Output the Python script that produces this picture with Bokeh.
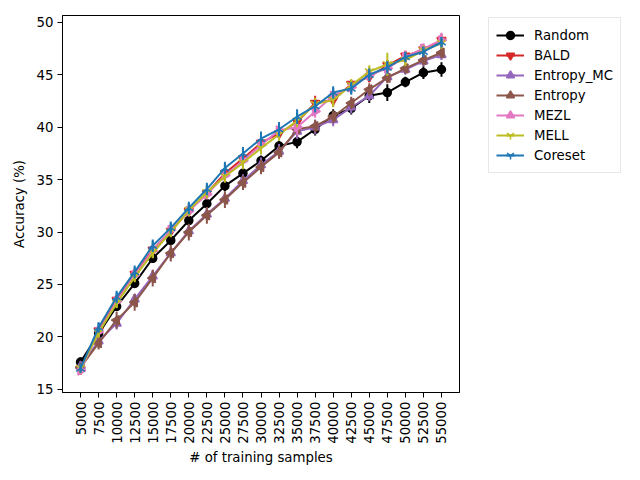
import math
from bokeh.plotting import figure
from bokeh.models import Range1d, FactorRange, Legend, LegendItem
from bokeh.embed import file_html
from bokeh.resources import INLINE

samples = ["5000", "7500", "10000", "12500", "15000", "17500", "20000", "22500",
           "25000", "27500", "30000", "32500", "35000", "37500", "40000", "42500",
           "45000", "47500", "50000", "52500", "55000"]

random_acc = [17.6, 20.3, 22.9, 25.1, 27.5, 29.2, 31.1, 32.7, 34.4, 35.6, 36.8,
              38.2, 38.6, 39.8, 41.1, 41.8, 43.0, 43.3, 44.3, 45.2, 45.5]
random_err = [0.3, 0.3, 0.4, 0.4, 0.4, 0.4, 0.5, 0.4, 0.5, 0.5, 0.5, 0.5, 0.6,
              0.6, 0.6, 0.6, 0.7, 0.8, 0.5, 0.6, 0.7]

bald_acc = [16.9, 20.6, 23.5, 26.0, 28.3, 30.1, 32.0, 33.7, 35.6, 37.0, 38.5,
            39.4, 40.5, 42.3, 42.6, 44.1, 44.8, 45.9, 46.8, 47.4, 48.3]
bald_err = [0.5, 0.4, 0.5, 0.5, 0.5, 0.6, 0.5, 0.5, 0.5, 0.5, 0.6, 0.6, 0.6,
            0.7, 0.6, 0.4, 0.5, 0.5, 0.5, 0.5, 0.6]

entropy_mc_acc = [17.2, 19.6, 21.3, 23.6, 25.8, 28.0, 30.1, 31.7, 33.2, 34.9, 36.4,
                  37.7, 39.6, 40.0, 40.7, 41.9, 43.0, 44.8, 45.5, 46.3, 46.9]
entropy_mc_err = [0.3, 0.4, 0.6, 0.5, 0.6, 0.6, 0.6, 0.6, 0.6, 0.6, 0.7, 0.7, 0.7,
                  0.7, 0.6, 0.6, 0.5, 0.5, 0.5, 0.5, 0.5]

entropy_acc = [17.1, 19.4, 21.6, 23.3, 25.6, 28.0, 30.0, 31.6, 33.1, 34.7, 36.2,
               37.6, 39.8, 40.1, 41.0, 42.3, 43.6, 44.7, 45.6, 46.4, 47.1]
entropy_err = [0.4, 0.6, 0.8, 0.8, 0.8, 0.8, 0.8, 0.8, 0.8, 0.7, 0.7, 0.6, 0.6,
               0.6, 0.6, 0.6, 0.6, 0.5, 0.5, 0.5, 0.5]

mezl_acc = [16.8, 20.5, 23.4, 25.9, 28.2, 30.2, 32.0, 33.6, 35.4, 36.8, 38.3,
            39.7, 40.0, 41.5, 43.0, 43.8, 45.0, 45.6, 46.7, 47.5, 48.3]
mezl_err = [0.3, 0.4, 0.4, 0.4, 0.5, 0.5, 0.5, 0.5, 0.5, 0.6, 0.8, 0.7, 0.8,
            0.6, 0.6, 0.6, 0.6, 0.6, 0.6, 0.5, 0.7]

mell_acc = [17.0, 20.4, 23.2, 25.7, 28.0, 30.0, 32.1, 33.8, 35.3, 36.6, 38.0,
            39.3, 40.6, 42.2, 42.6, 44.0, 45.3, 46.0, 46.4, 47.3, 48.0]
mell_err = [0.4, 0.4, 0.4, 0.4, 0.5, 0.5, 0.6, 0.6, 0.6, 0.6, 0.6, 0.6, 0.6,
            0.6, 0.7, 0.6, 0.6, 1.1, 0.6, 0.5, 0.5]

coreset_acc = [17.0, 20.9, 23.8, 26.2, 28.7, 30.4, 32.3, 34.1, 36.1, 37.5, 38.9,
               39.8, 41.0, 42.0, 43.3, 43.7, 45.0, 45.7, 46.7, 47.2, 48.1]
coreset_err = [0.3, 0.5, 0.6, 0.6, 0.6, 0.6, 0.6, 0.6, 0.6, 0.6, 0.7, 0.7, 0.7,
               0.6, 0.6, 0.6, 0.6, 0.6, 0.5, 0.5, 0.5]

series_names = ["Random", "BALD", "Entropy_MC", "Entropy", "MEZL", "MELL", "Coreset"]
series_vals = [random_acc, bald_acc, entropy_mc_acc, entropy_acc, mezl_acc, mell_acc, coreset_acc]
series_errs = [random_err, bald_err, entropy_mc_err, entropy_err, mezl_err, mell_err, coreset_err]
colors = ["#000000", "#d62728", "#9467bd", "#8c564b", "#e377c2", "#bcbd22", "#1f77b4"]
markers = ["circle", "inverted_triangle", "triangle", "triangle", "triangle", "y", "y"]
angles = [0, 0, 0, math.pi / 2, -math.pi / 2, 0, math.pi]
sizes = [8, 9, 9, 9, 9, 10, 10]
filled = [True, True, True, True, True, False, False]

FONT = "DejaVu Sans"

p = figure(x_range=FactorRange(factors=samples, range_padding=0.5, range_padding_units="absolute"),
           y_range=Range1d(14.7, 50.65),
           frame_width=397, frame_height=377,
           min_border_left=62, min_border_right=170, min_border_top=15, min_border_bottom=80,
           output_backend="svg", toolbar_location=None)

p.xgrid.visible = False
p.ygrid.visible = False
p.outline_line_color = "black"
p.outline_line_width = 1
p.background_fill_color = "white"
p.border_fill_color = "white"

for ax in (p.xaxis[0], p.yaxis[0]):
    ax.axis_line_color = "black"
    ax.major_tick_line_color = "black"
    ax.minor_tick_line_color = None
    ax.major_tick_out = 5
    ax.major_tick_in = 0
    ax.major_label_text_font = FONT
    ax.major_label_text_font_size = "13.3px"
    ax.major_label_text_color = "black"
    ax.axis_label_text_font = FONT
    ax.axis_label_text_font_size = "13.3px"
    ax.axis_label_text_font_style = "normal"
    ax.axis_label_text_color = "black"
    ax.major_label_standoff = 4

p.xaxis.axis_label = "# of training samples"
p.yaxis.axis_label = "Accuracy (%)"
p.xaxis.major_label_orientation = math.pi / 2
p.yaxis.ticker = [15, 20, 25, 30, 35, 40, 45, 50]
p.yaxis.axis_label_standoff = 7
p.xaxis.axis_label_standoff = 3

items = []
for name, vals, errs, c, m, a, s, f in zip(series_names, series_vals, series_errs,
                                           colors, markers, angles, sizes, filled):
    lo = [v - e for v, e in zip(vals, errs)]
    hi = [v + e for v, e in zip(vals, errs)]
    seg = p.segment(x0=samples, y0=lo, x1=samples, y1=hi, line_color=c, line_width=2)
    ln = p.line(x=samples, y=vals, line_color=c, line_width=2)
    bar = p.scatter(x=samples, y=vals, marker="dash", angle=math.pi / 2, size=9,
                    line_color=c, line_width=2)
    sc = p.scatter(x=samples, y=vals, marker=m, angle=a, size=s,
                   line_color=c, fill_color=c if f else None, line_width=1.5)
    items.append(LegendItem(label=name, renderers=[ln, bar, sc]))

legend = Legend(items=items, location=(29, 219))
legend.label_text_font = FONT
legend.label_text_font_size = "13.3px"
legend.label_text_color = "black"
legend.glyph_width = 28
legend.glyph_height = 20
legend.label_height = 20
legend.spacing = 0
legend.padding = 7
legend.label_standoff = 10
legend.margin = 0
legend.border_line_color = "#d0d0d0"
legend.border_line_width = 1
legend.background_fill_alpha = 0.8
p.add_layout(legend, "right")

open("out.html", "w").write(file_html(p, INLINE))
